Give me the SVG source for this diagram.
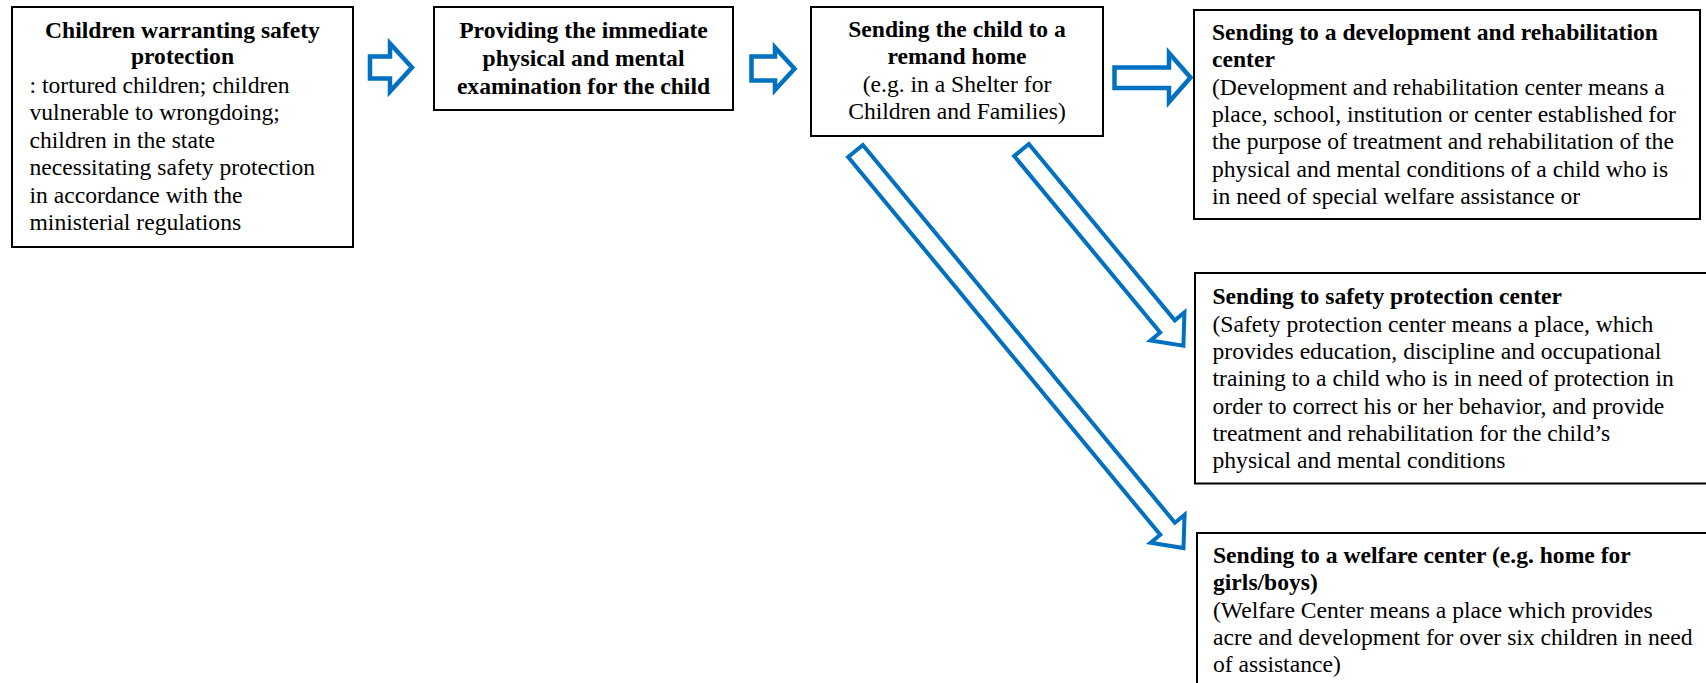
<svg xmlns="http://www.w3.org/2000/svg" width="1706" height="683" viewBox="0 0 1706 683">
<style>
.box{fill:#fff;stroke:#000;stroke-width:2}
.arr{fill:#fff;stroke:#0070C0;stroke-width:4.5;stroke-linejoin:miter}
.darr{fill:#fff;stroke:#0070C0;stroke-width:4;stroke-linejoin:miter}
text{font-family:"Liberation Serif","Times New Roman",serif;font-size:23.6px;fill:#000}
.b{font-weight:bold}
.c{text-anchor:middle}
</style>
<rect width="1706" height="683" fill="#fff"/>
<g id="connectors">
<polygon class="arr" points="370,56.5 390,56.5 390,43.5 412,67.5 390,91.5 390,78.5 370,78.5"/>
<polygon class="arr" points="751.5,56.5 775,56.5 775,47.5 794.5,68.8 775,90 775,80.5 751.5,80.5"/>
<polygon class="arr" points="1114.5,67.5 1169,67.5 1169,53 1190.5,77.5 1169,102 1169,88 1114.5,88"/>
<polygon class="darr" transform="translate(1021.5,150) rotate(50.4)" points="0,-9.5 229,-9.5 229,-22 254,0 229,22 229,9.5 0,9.5"/>
<polygon class="darr" transform="translate(855.5,151) rotate(50.44)" points="0,-9.5 490,-9.5 490,-22 515,0 490,22 490,9.5 0,9.5"/>
</g>
<g id="n1">
<rect class="box" x="12" y="7" width="341" height="240"/>
<text class="b c" x="182.5" y="38.3">Children warranting safety</text>
<text class="b c" x="182.5" y="64.3">protection</text>
<text x="29.5" y="93">: tortured children; children</text>
<text x="29.5" y="120.4">vulnerable to wrongdoing;</text>
<text x="29.5" y="147.8">children in the state</text>
<text x="29.5" y="175.2">necessitating safety protection</text>
<text x="29.5" y="202.6">in accordance with the</text>
<text x="29.5" y="230">ministerial regulations</text>
</g>
<g id="n2">
<rect class="box" x="434" y="7" width="299" height="103"/>
<text class="b c" x="583.5" y="38.3">Providing the immediate</text>
<text class="b c" x="583.5" y="66">physical and mental</text>
<text class="b c" x="583.5" y="94">examination for the child</text>
</g>
<g id="n3">
<rect class="box" x="811" y="7" width="292" height="129"/>
<text class="b c" x="957" y="36.7">Sending the child to a</text>
<text class="b c" x="957" y="64.3">remand home</text>
<text class="c" x="957" y="91.7">(e.g. in a Shelter for</text>
<text class="c" x="957" y="119">Children and Families)</text>
</g>
<g id="n4">
<rect class="box" x="1194" y="10" width="506" height="209"/>
<text class="b" x="1212" y="40">Sending to a development and rehabilitation</text>
<text class="b" x="1212" y="66.7">center</text>
<text x="1212" y="94.6">(Development and rehabilitation center means a</text>
<text x="1212" y="122">place, school, institution or center established for</text>
<text x="1212" y="149.4">the purpose of treatment and rehabilitation of the</text>
<text x="1212" y="176.8">physical and mental conditions of a child who is</text>
<text x="1212" y="203.5">in need of special welfare assistance or</text>
</g>
<g id="n5">
<rect class="box" x="1195" y="273" width="520" height="210.5"/>
<text class="b" x="1212.5" y="304">Sending to safety protection center</text>
<text x="1212.5" y="331.5">(Safety protection center means a place, which</text>
<text x="1212.5" y="359">provides education, discipline and occupational</text>
<text x="1212.5" y="386.3">training to a child who is in need of protection in</text>
<text x="1212.5" y="413.6">order to correct his or her behavior, and provide</text>
<text x="1212.5" y="441">treatment and rehabilitation for the child’s</text>
<text x="1212.5" y="468.3">physical and mental conditions</text>
</g>
<g id="n6">
<rect class="box" x="1197" y="533" width="520" height="160"/>
<text class="b" x="1213" y="563">Sending to a welfare center (e.g. home for</text>
<text class="b" x="1213" y="590">girls/boys)</text>
<text x="1213" y="617.5">(Welfare Center means a place which provides</text>
<text x="1213" y="645">acre and development for over six children in need</text>
<text x="1213" y="672">of assistance)</text>
</g>
</svg>
